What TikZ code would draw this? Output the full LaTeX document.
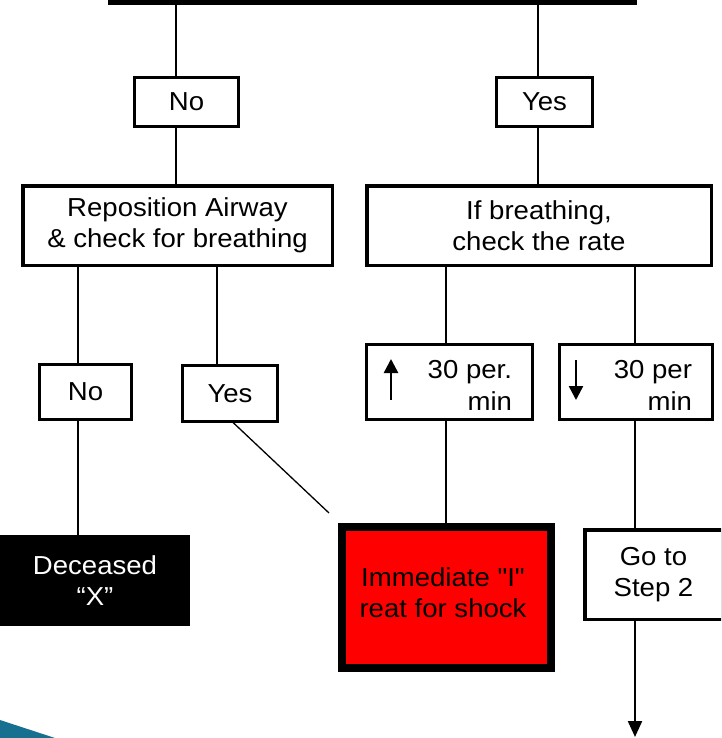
\documentclass[tikz,border=0pt]{standalone}
\usepackage{fontspec}
\setmainfont{Liberation Sans}[Ligatures=TeXOff, FakeStretch=1.06]
\usetikzlibrary{arrows.meta}
\definecolor{swoosh}{HTML}{17708F}
\newcommand\boxfont{\fontsize{26}{30.5}\selectfont}
\begin{document}
\begin{tikzpicture}[x=1pt,y=-1pt,
  box/.style={draw, line width=3pt, fill=white, inner sep=0pt, outer sep=0pt, align=center, font=\boxfont},
  txt/.style={inner sep=0pt, outer sep=0pt, align=center, font=\boxfont},
  conn/.style={line width=1.3pt},
  rate/.style={line width=2.5pt, -{Triangle[width=14pt,length=14pt]}}]
\useasboundingbox (0,0) rectangle (721,738);
\clip (0,0) rectangle (721,738);
% boxes
\node[box, line width=5pt, minimum width=524pt, minimum height=60pt] (top) at (372.5,-27.5) {};
\node[box, minimum width=104pt, minimum height=49pt] (No1) at (186.5,102) {No};
\node[box, minimum width=96pt, minimum height=49pt] (Yes1) at (544.5,102) {Yes};
\node[box, line width=3.5pt, minimum width=309.5pt, minimum height=79.5pt] (Rep) at (177.5,225.5) {Reposition Airway\\\& check for breathing};
\node[box, line width=3.5pt, minimum width=344.5pt, minimum height=79.5pt] (If) at (539,225.5) {If breathing,\\check the rate};
\node[box, minimum width=92pt, minimum height=55pt] (No2) at (85.5,392) {No};
\node[box, minimum width=95pt, minimum height=56pt] (Yes2) at (230,393.5) {Yes};
\node[box, minimum width=166pt, minimum height=75pt] (Up) at (449.5,382) {};
\node[box, minimum width=153pt, minimum height=75pt] (Dn) at (636,382) {};
\node[box, draw=none, fill=black, text=white, minimum width=190pt, minimum height=91pt] (Dec) at (95,580.5) {Deceased\\“X”};
\node[box, line width=8pt, fill=red, minimum width=209pt, minimum height=141pt] (Red) at (446.5,597.5) {};
\node[txt] (RedT) at (443,592.5) {Immediate "I"\\reat for shock};
\node[box, line width=3.5pt, minimum width=137.5pt, minimum height=89.5pt] (Go) at (653.5,574.5) {Go to\\Step 2};
% texts in rate boxes
\node[txt, anchor=base east] (UpA) at (512,378) {30 per.};
\node[txt, anchor=base east] (UpB) at (512,410) {min};
\node[txt, anchor=base east] (DnA) at (692,378) {30 per};
\node[txt, anchor=base east] (DnB) at (692,410) {min};
\coordinate (upS) at (391,400);
\coordinate (upE) at (391,359);
\coordinate (dnS) at (576,360);
\coordinate (dnE) at (576,400);
\draw[rate] (upS) -- (upE);
\draw[rate] (dnS) -- (dnE);
% connector x positions
\coordinate (xa) at (176,0);
\coordinate (xb) at (538,0);
\coordinate (xc) at (78,0);
\coordinate (xd) at (217,0);
\coordinate (xe) at (446,0);
\coordinate (xf) at (635,0);
\coordinate (xg) at (232,0);
\coordinate (diagEnd) at (329,513);
\coordinate (arrEnd) at (635,737);
% connectors
\draw[conn] (top.south -| xa) -- (No1.north -| xa);
\draw[conn] (No1.south -| xa) -- (Rep.north -| xa);
\draw[conn] (top.south -| xb) -- (Yes1.north -| xb);
\draw[conn] (Yes1.south -| xb) -- (If.north -| xb);
\draw[conn] (Rep.south -| xc) -- (No2.north -| xc);
\draw[conn] (No2.south -| xc) -- (Dec.north -| xc);
\draw[conn] (Rep.south -| xd) -- (Yes2.north -| xd);
\draw[conn] (Yes2.south -| xg) -- (diagEnd);
\draw[conn] (If.south -| xe) -- (Up.north -| xe);
\draw[conn] (Up.south -| xe) -- (Red.north -| xe);
\draw[conn] (If.south -| xf) -- (Dn.north -| xf);
\draw[conn] (Dn.south -| xf) -- (Go.north -| xf);
\draw[line width=2.2pt, -{Triangle[width=14pt,length=16pt]}] (Go.south -| xf) -- (arrEnd);
% decorative swoosh
\fill[swoosh] (0,720) -- (55,738) -- (0,738) -- cycle;
\end{tikzpicture}
\end{document}
